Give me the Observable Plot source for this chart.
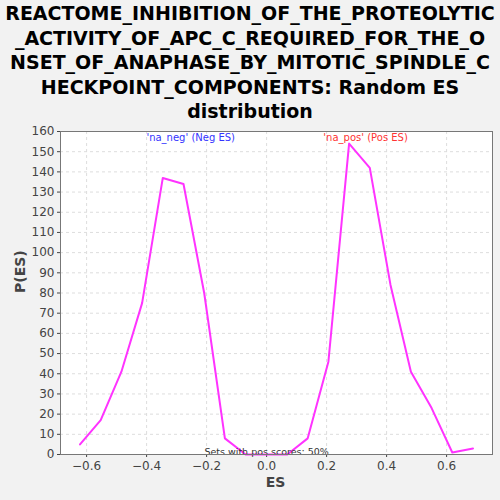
<!DOCTYPE html>
<html>
<head>
<meta charset="utf-8">
<script src="https://cdn.jsdelivr.net/npm/d3@7"></script>
<script src="https://cdn.jsdelivr.net/npm/@observablehq/plot@0.6"></script>
<style>
  body { margin: 0; background: #f2f2f2; width: 500px; height: 500px; overflow: hidden; }
  #title { font-family: "DejaVu Sans", sans-serif; font-weight: bold; font-size: 19px; line-height: 24.5px;
           text-align: center; color: #000; height: 125px; padding-top: 1px; box-sizing: border-box; white-space: nowrap; }
</style>
</head>
<body>
<div id="title"></div>
<div id="chart"></div>
<script>
const titleLines = [
  "REACTOME_INHIBITION_OF_THE_PROTEOLYTIC",
  "_ACTIVITY_OF_APC_C_REQUIRED_FOR_THE_O",
  "NSET_OF_ANAPHASE_BY_MITOTIC_SPINDLE_C",
  "HECKPOINT_COMPONENTS: Random ES",
  "distribution"
];
const es = [-0.622, -0.553, -0.484, -0.415, -0.346, -0.277, -0.208, -0.139, -0.07, 0.0, 0.069, 0.137, 0.206, 0.275, 0.344, 0.413, 0.481, 0.55, 0.619, 0.688];
const pes = [5, 17, 41, 75, 137, 134, 80, 8, 0, 0, 0, 8, 46, 154, 142, 84, 41, 23, 1, 3];
const xTicks = [-0.6, -0.4, -0.2, 0.0, 0.2, 0.4, 0.6];
const yTicks = d3.range(0, 161, 10);

d3.select("#title").selectAll("div").data(titleLines).join("div").text(d => d);

const data = es.map((x, i) => ({x, y: pes[i]}));

const chart = Plot.plot({
  width: 500,
  height: 375,
  marginLeft: 60,
  marginRight: 8,
  marginTop: 6,
  marginBottom: 46,
  style: { background: "transparent", fontFamily: "DejaVu Sans, sans-serif", fontSize: 12, color: "#444" },
  x: { domain: [-0.687, 0.753], ticks: xTicks, tickFormat: d3.format(".1f"), label: null },
  y: { domain: [0, 160], ticks: yTicks, label: null },
  marks: [
    Plot.frame({ fill: "white" }),
    Plot.gridX(xTicks, { stroke: "#ddd", strokeOpacity: 1, strokeDasharray: "3,3" }),
    Plot.gridY(yTicks, { stroke: "#ddd", strokeOpacity: 1, strokeDasharray: "3,3" }),
    Plot.axisX(xTicks, { tickSize: 3, tickFormat: d3.format(".1f"), fontSize: 12, fill: "#444", tickPadding: 4 }),
    Plot.axisY(yTicks, { tickSize: 3, fontSize: 12, fill: "#444", tickPadding: 3 }),
    Plot.line(data, { x: "x", y: "y", stroke: "#ff33ff", strokeWidth: 2 }),
    Plot.text(["'na_neg' (Neg ES)"], { x: -0.253, y: 157, text: d => d, fill: "#3333ff", fontSize: 10 }),
    Plot.text(["'na_pos' (Pos ES)"], { x: 0.33, y: 157, text: d => d, fill: "#ff3333", fontSize: 10 }),
    Plot.text(["Sets with pos scores: 50%"], { x: 0, y: 1.5, text: d => d, fill: "#333", fontSize: 9.5 }),
    Plot.frame({ stroke: "#777" }),
    Plot.text(["ES"], { x: 0.03, y: 0, dy: 32, text: d => d, fill: "#444", fontSize: 14, fontWeight: "bold", frameAnchor: "bottom" }),
    Plot.text(["P(ES)"], { frameAnchor: "left", dx: -40, rotate: -90, text: d => d, fill: "#444", fontSize: 14, fontWeight: "bold" })
  ]
});
document.getElementById("chart").append(chart);
</script>
</body>
</html>
